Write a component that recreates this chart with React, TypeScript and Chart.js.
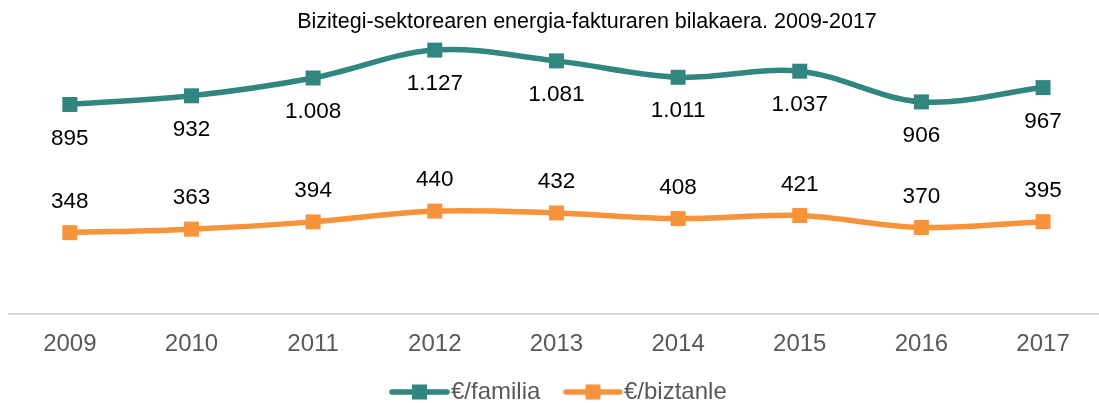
import React, { useEffect, useRef } from 'react';
import { Chart, registerables } from 'chart.js';

Chart.register(...registerables);

const TITLE = 'Bizitegi-sektorearen energia-fakturaren bilakaera. 2009-2017';
const YEARS = ['2009', '2010', '2011', '2012', '2013', '2014', '2015', '2016', '2017'];
const FAMILIA = [895, 932, 1008, 1127, 1081, 1011, 1037, 906, 967];
const BIZTANLE = [348, 363, 394, 440, 432, 408, 421, 370, 395];
const SERIES_NAMES = ['€/familia', '€/biztanle'];
const COLORS = ['#31867F', '#F7933B'];

const FONT = '"Liberation Sans", Arial, sans-serif';

function fmt(n: number): string {
  if (n >= 1000) {
    const th = Math.floor(n / 1000);
    const rest = String(n % 1000).padStart(3, '0');
    return th + '.' + rest;
  }
  return String(n);
}

const labelsPlugin = {
  id: 'dataLabels',
  afterDatasetsDraw(chart: any) {
    const ctx = chart.ctx;
    ctx.save();
    ctx.font = `22.5px ${FONT}`;
    ctx.fillStyle = '#000000';
    ctx.textAlign = 'center';
    ctx.textBaseline = 'middle';
    chart.data.datasets.forEach((ds: any, di: number) => {
      const meta = chart.getDatasetMeta(di);
      meta.data.forEach((pt: any, i: number) => {
        const v = ds.data[i].y;
        const dy = di === 0 ? 34 : -31;
        ctx.fillText(fmt(v), pt.x, pt.y + dy);
      });
    });
    ctx.restore();
  },
};

const titleLegendPlugin = {
  id: 'titleLegend',
  afterDraw(chart: any) {
    const ctx = chart.ctx;
    ctx.save();
    ctx.font = `21.5px ${FONT}`;
    ctx.fillStyle = '#000000';
    ctx.textAlign = 'center';
    ctx.textBaseline = 'middle';
    ctx.fillText(TITLE, 587, 22);

    const items = [
      { lineX: 392, lineW: 55, text: SERIES_NAMES[0], color: COLORS[0] },
      { lineX: 566, lineW: 54, text: SERIES_NAMES[1], color: COLORS[1] },
    ];
    const ly = 392;
    ctx.font = `24px ${FONT}`;
    ctx.textAlign = 'left';
    items.forEach((it) => {
      ctx.strokeStyle = it.color;
      ctx.lineWidth = 5.5;
      ctx.lineCap = 'round';
      ctx.beginPath();
      ctx.moveTo(it.lineX, ly);
      ctx.lineTo(it.lineX + it.lineW, ly);
      ctx.stroke();
      ctx.fillStyle = it.color;
      const cx = it.lineX + it.lineW / 2;
      ctx.fillRect(cx - 7.5, ly - 7.5, 15, 15);
      ctx.fillStyle = '#595959';
      ctx.fillText(it.text, it.lineX + it.lineW + 4, ly);
    });
    ctx.restore();
  },
};

export default function App() {
  const ref = useRef<HTMLCanvasElement | null>(null);

  useEffect(() => {
    document.body.style.margin = '0';
    const canvas = ref.current;
    if (!canvas) return;
    const mk = (arr: number[]) => arr.map((v, i) => ({ x: i, y: v }));
    const common = {
      borderWidth: 5.5,
      pointStyle: 'rect',
      pointRadius: 10.6,
      pointBorderWidth: 0,
      tension: 0.35,
      clip: false,
    };
    const chart = new Chart(canvas, {
      type: 'line',
      data: {
        datasets: [
          {
            label: SERIES_NAMES[0],
            data: mk(FAMILIA),
            borderColor: COLORS[0],
            backgroundColor: COLORS[0],
            ...common,
          },
          {
            label: SERIES_NAMES[1],
            data: mk(BIZTANLE),
            borderColor: COLORS[1],
            backgroundColor: COLORS[1],
            ...common,
          },
        ],
      },
      options: {
        responsive: false,
        animation: false,
        events: [],
        layout: { autoPadding: false, padding: { top: 33, left: 9, right: 0, bottom: 28 } },
        plugins: {
          legend: { display: false },
          title: { display: false },
          tooltip: { enabled: false },
        },
        scales: {
          x: {
            type: 'linear',
            min: -0.5,
            max: 8.46,
            afterBuildTicks: (s: any) => {
              s.ticks = YEARS.map((_, i) => ({ value: i }));
            },
            afterFit: (s: any) => {
              s.paddingLeft = 0;
              s.paddingRight = 0;
            },
            grid: { display: false, drawTicks: false },
            border: { display: true, color: '#D9D9D9', width: 2 },
            ticks: {
              autoSkip: false,
              maxRotation: 0,
              padding: 16,
              color: '#595959',
              font: { family: FONT, size: 24 },
              callback: (v: any) => YEARS[v] ?? '',
            },
          },
          y: {
            display: false,
            min: 0,
            max: 1200,
          },
        },
      },
      plugins: [labelsPlugin, titleLegendPlugin],
    } as any);
    return () => chart.destroy();
  }, []);

  return (
    <div style={{ width: 1099, height: 403 }}>
      <canvas ref={ref} width={1099} height={403} style={{ display: 'block' }} />
    </div>
  );
}
